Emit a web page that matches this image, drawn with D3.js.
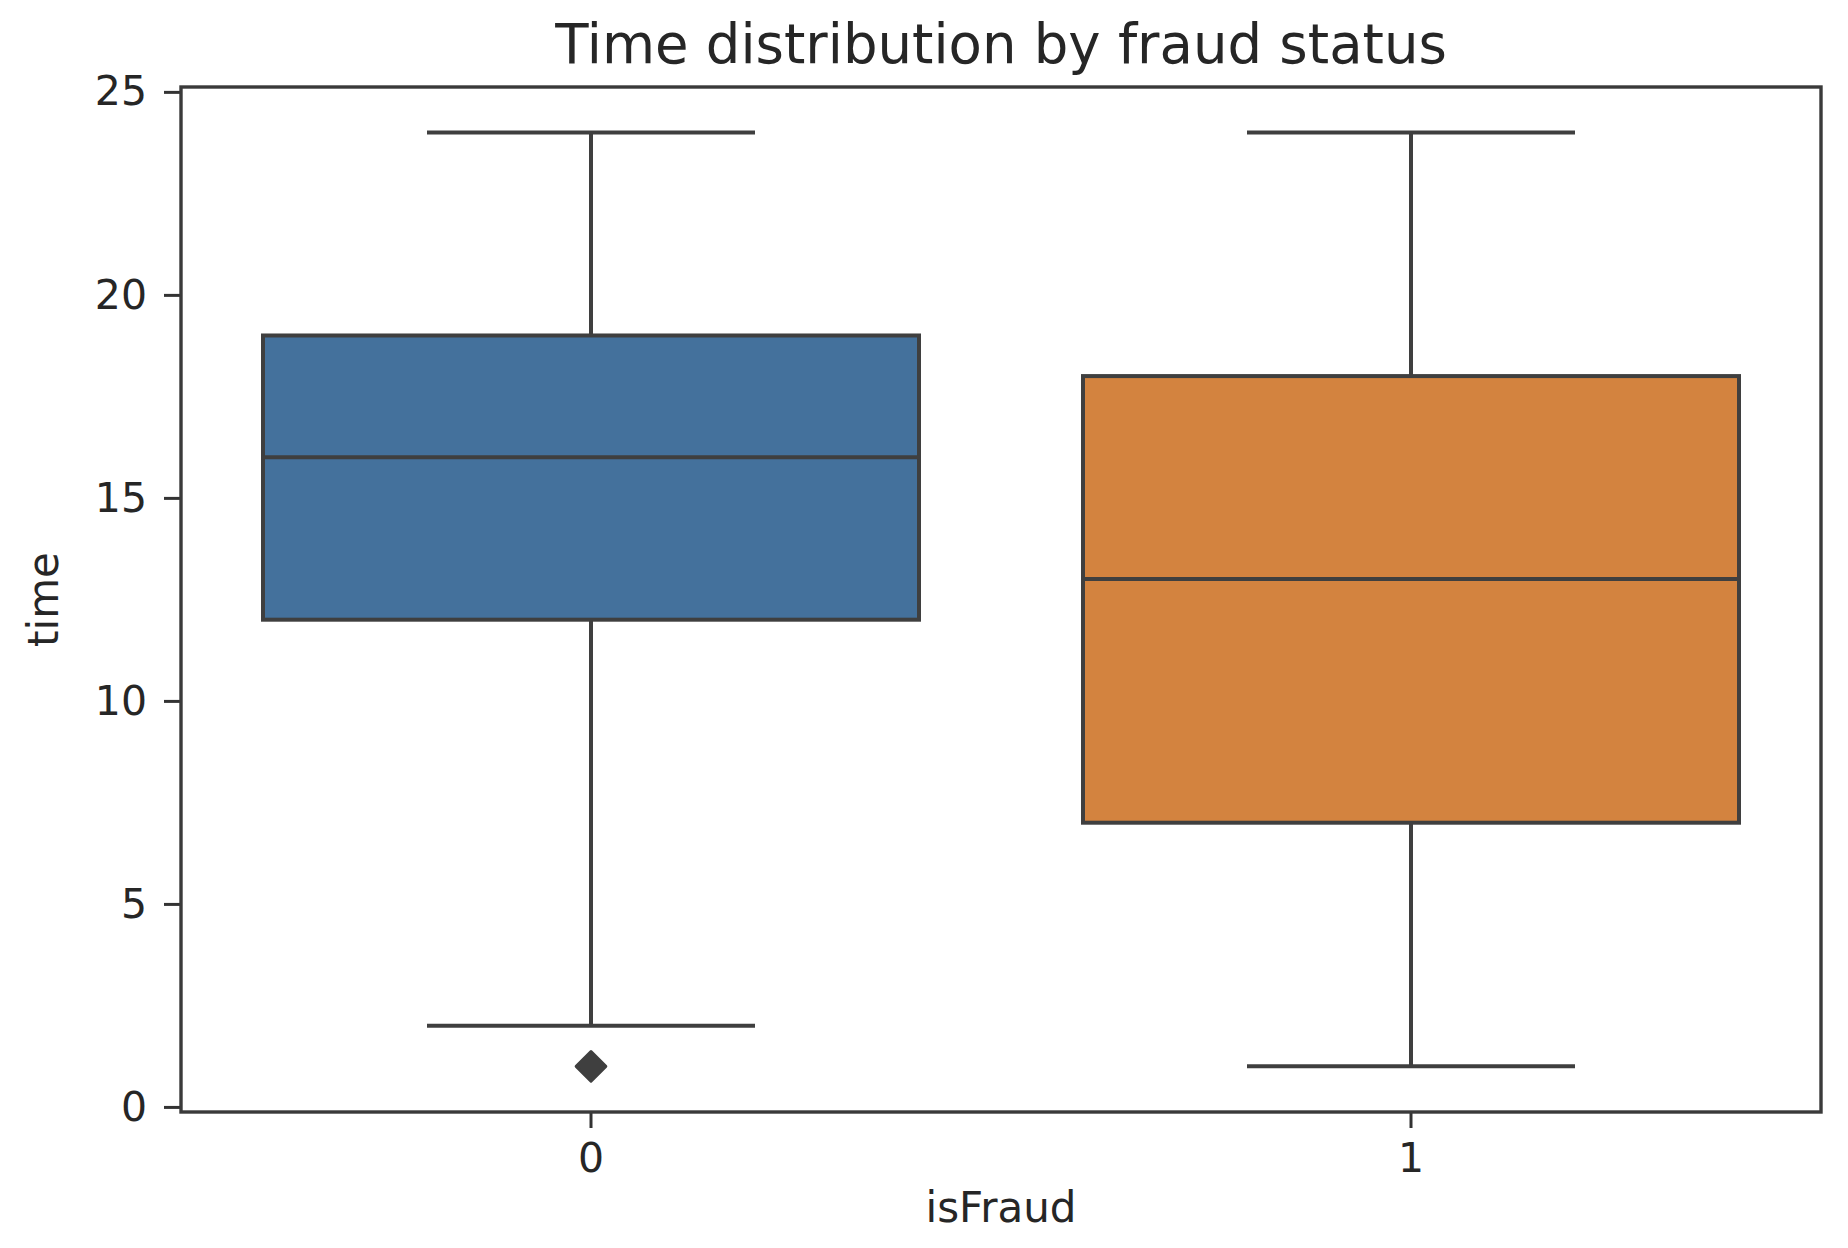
<!DOCTYPE html>
<html>
<head>
<meta charset="utf-8">
<script src="https://cdn.jsdelivr.net/npm/d3@7"></script>
<style>
    html, body { margin: 0; padding: 0; background: #fff; }
    text { font-family: "DejaVu Sans", sans-serif; fill: #262626; }
</style>
</head>
<body>
<svg id="boxplot"></svg>
<script>
// values
const categories = ["0", "1"]
const whiskerLow = [2, 1]
const q1 = [12, 7]
const medians = [16, 13]
const q3 = [19, 18]
const whiskerHigh = [24, 24]
const outliers = [[1], []]
const boxColors = ["#44719c", "#d3833f"]
const yTicks = [0, 5, 10, 15, 20, 25]

const width = 1848
const height = 1248
const margin = {top: 87, right: 27, bottom: 136, left: 181}

var svg = d3.select("#boxplot")
    .attr("width", width)
    .attr("height", height)

var data = categories.map((c, i) => ({
    cat: c,
    low: whiskerLow[i],
    q1: q1[i],
    med: medians[i],
    q3: q3[i],
    high: whiskerHigh[i],
    fliers: outliers[i],
    color: boxColors[i]
}))

// scales
var x = d3.scaleBand()
    .domain(categories)
    .range([margin.left, width - margin.right])
    .padding(0)

var y = d3.scaleLinear()
    .domain([-0.125, 25.12])
    .range([height - margin.bottom, margin.top])

const lineColor = "#3f3f3f"
const lw = 4
const boxW = x.bandwidth() * 0.8
const capW = x.bandwidth() * 0.4

// axes
var yAxis = svg.append("g")
    .attr("transform", "translate(" + margin.left + ",0)")
    .call(d3.axisLeft(y).tickValues(yTicks).tickSize(17).tickPadding(17))
yAxis.select(".domain").remove()
yAxis.selectAll("line").attr("stroke", "#333").attr("stroke-width", 3)
yAxis.selectAll("text").style("font-size", "41px").attr("fill", "#333")

var xAxis = svg.append("g")
    .attr("transform", "translate(0," + (height - margin.bottom) + ")")
    .call(d3.axisBottom(x).tickSize(16).tickPadding(15))
xAxis.select(".domain").remove()
xAxis.selectAll("line").attr("stroke", "#333").attr("stroke-width", 3)
xAxis.selectAll("text").style("font-size", "41px").attr("fill", "#333")

// boxes
var groups = svg.append("g")
    .selectAll("g")
    .data(data)
    .enter()
    .append("g")

var cx = (d) => x(d.cat) + x.bandwidth() / 2

// whiskers
groups.append("line")
    .attr("x1", cx).attr("x2", cx)
    .attr("y1", (d) => y(d.q3)).attr("y2", (d) => y(d.high))
    .attr("stroke", lineColor).attr("stroke-width", lw)
groups.append("line")
    .attr("x1", cx).attr("x2", cx)
    .attr("y1", (d) => y(d.q1)).attr("y2", (d) => y(d.low))
    .attr("stroke", lineColor).attr("stroke-width", lw)

// caps
groups.selectAll(".cap")
    .data((d) => [d.low, d.high].map((v) => ({v: v, c: cx(d)})))
    .enter()
    .append("line")
    .attr("class", "cap")
    .attr("x1", (d) => d.c - capW / 2).attr("x2", (d) => d.c + capW / 2)
    .attr("y1", (d) => y(d.v)).attr("y2", (d) => y(d.v))
    .attr("stroke", lineColor).attr("stroke-width", lw)

groups.append("rect")
    .attr("x", (d) => cx(d) - boxW / 2)
    .attr("width", boxW)
    .attr("y", (d) => y(d.q3))
    .attr("height", (d) => y(d.q1) - y(d.q3))
    .attr("fill", (d) => d.color)
    .attr("stroke", lineColor)
    .attr("stroke-width", lw)

groups.append("line")
    .attr("x1", (d) => cx(d) - boxW / 2).attr("x2", (d) => cx(d) + boxW / 2)
    .attr("y1", (d) => y(d.med)).attr("y2", (d) => y(d.med))
    .attr("stroke", lineColor).attr("stroke-width", lw)

// fliers
groups.selectAll(".flier")
    .data((d) => d.fliers.map((v) => ({v: v, c: cx(d)})))
    .enter()
    .append("path")
    .attr("class", "flier")
    .attr("d", d3.symbol(d3.symbolDiamond2).size(560))
    .attr("transform", (d) => "translate(" + d.c + "," + y(d.v) + ")")
    .attr("fill", lineColor)
    .attr("stroke", lineColor)
    .attr("stroke-width", 3)
    .attr("stroke-linejoin", "round")

// frame
svg.append("rect")
    .attr("x", margin.left)
    .attr("y", margin.top)
    .attr("width", width - margin.left - margin.right)
    .attr("height", height - margin.top - margin.bottom)
    .attr("fill", "none")
    .attr("stroke", "#3a3a3a")
    .attr("stroke-width", 3.4)

// titles
const midX = margin.left + (width - margin.left - margin.right) / 2
svg.append("text")
    .attr("x", midX)
    .attr("y", 63)
    .attr("text-anchor", "middle")
    .style("font-size", "54.5px")
    .text("Time distribution by fraud status")

svg.append("text")
    .attr("x", midX)
    .attr("y", 1222)
    .attr("text-anchor", "middle")
    .style("font-size", "42px")
    .attr("fill", "#333")
    .text("isFraud")

svg.append("text")
    .attr("transform", "translate(58," + (margin.top + (height - margin.top - margin.bottom) / 2) + ") rotate(-90)")
    .attr("text-anchor", "middle")
    .style("font-size", "42px")
    .attr("fill", "#333")
    .text("time")
</script>
</body>
</html>
